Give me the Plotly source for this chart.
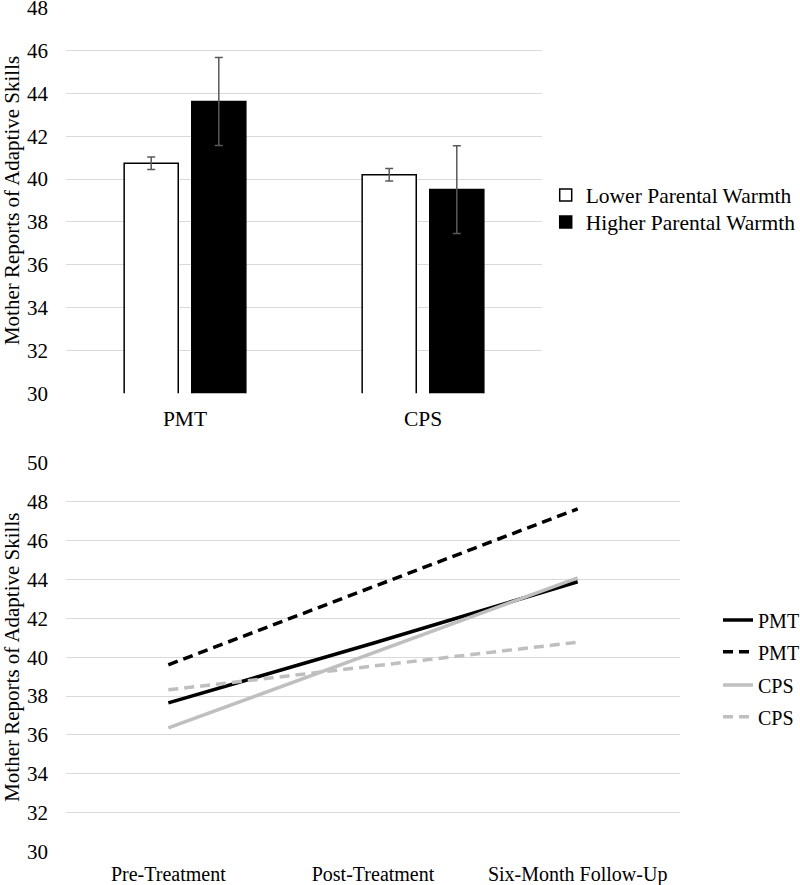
import plotly.graph_objects as go

# ---- Top chart data (bar chart) ----
groups = ["PMT", "CPS"]
lower_warmth = [40.74, 40.20]
lower_err = [0.29, 0.29]
higher_warmth = [43.62, 39.51]
higher_err = [2.05, 2.05]

# ---- Bottom chart data (line chart) ----
timepoints = ["Pre-Treatment", "Post-Treatment", "Six-Month Follow-Up"]
pmt_solid = [37.65, 40.72, 43.88]
pmt_dashed = [39.61, 43.62, 47.63]
cps_solid = [36.36, 40.22, 44.08]
cps_dashed = [38.32, 39.55, 40.77]

top_ticks = list(range(30, 49, 2))
bottom_ticks = list(range(30, 51, 2))

W, H = 800, 885
FONT = "Liberation Serif"
GRID = "#d9d9d9"


def px_x(p):
    return p / W


def px_y(p):
    return 1 - p / H


fig = go.Figure()

bar_specs = [
    ("Lower Parental Warmth", lower_warmth, lower_err, "white", "legend", 195),
    ("Higher Parental Warmth", higher_warmth, higher_err, "black", "legend2", 222),
]
for name, vals, err, col, leg, _ in bar_specs:
    fig.add_trace(go.Bar(
        x=groups, y=vals, name=name,
        marker=dict(color=col, line=dict(color="black", width=1.5)),
        error_y=dict(type="data", array=err, color="#595959", thickness=1.5, width=4),
        xaxis="x", yaxis="y", legend=leg,
    ))

line_specs = [
    ("PMT", pmt_solid, "black", "solid", "legend3", 620),
    ("PMT", pmt_dashed, "black", "10px,6px", "legend4", 651.7),
    ("CPS", cps_solid, "#bfbfbf", "solid", "legend5", 685),
    ("CPS", cps_dashed, "#bfbfbf", "10px,6px", "legend6", 716.7),
]
for name, vals, col, dash, leg, _ in line_specs:
    fig.add_trace(go.Scatter(
        x=timepoints, y=vals, name=name, mode="lines",
        line=dict(color=col, width=3.5, dash=dash),
        xaxis="x2", yaxis="y2", legend=leg,
    ))

legends = {}
for spec in bar_specs:
    legends[spec[4]] = dict(x=px_x(545.7), y=px_y(spec[5]), xanchor="left", yanchor="middle",
                            font=dict(size=21.5), bgcolor="rgba(0,0,0,0)")
for spec in line_specs:
    legends[spec[4]] = dict(x=px_x(718), y=px_y(spec[5]), xanchor="left", yanchor="middle",
                            font=dict(size=20), bgcolor="rgba(0,0,0,0)")

fig.update_layout(
    width=W, height=H,
    margin=dict(l=0, r=0, t=0, b=0, autoexpand=False),
    paper_bgcolor="white", plot_bgcolor="white",
    font=dict(family=FONT, size=21, color="black"),
    barmode="group", bargap=0.432, bargroupgap=0.2,
    xaxis=dict(domain=[px_x(66), px_x(542)], anchor="y", showgrid=False, automargin=False,
               showline=False, zeroline=False, ticks="", ticklabelstandoff=10,
               tickfont=dict(size=21.5)),
    yaxis=dict(domain=[px_y(393.3), px_y(7.6)], anchor="x", range=[29.995, 48.005],
               automargin=False, tickvals=top_ticks, gridcolor=GRID, gridwidth=1.3,
               zeroline=False, showline=False, ticklabelstandoff=17,
               ticklabeloverflow="allow",
               title=dict(text="Mother Reports of Adaptive Skills", standoff=5,
                          font=dict(size=21))),
    xaxis2=dict(domain=[px_x(66), px_x(680)], anchor="y2", showgrid=False, automargin=False,
                range=[-0.5, 2.5], showline=False, zeroline=False, ticks="",
                ticklabelstandoff=8, tickfont=dict(size=20), ticklabeloverflow="allow"),
    yaxis2=dict(domain=[px_y(851.7), px_y(462.7)], anchor="x2", range=[29.995, 50.005],
                automargin=False, tickvals=bottom_ticks, gridcolor=GRID, gridwidth=1.3,
                zeroline=False, showline=False, ticklabelstandoff=17,
                ticklabeloverflow="allow",
                title=dict(text="Mother Reports of Adaptive Skills", standoff=5,
                           font=dict(size=21))),
    showlegend=True,
    **legends,
)

# remove the browser's default 8px body margin so the figure sits at the page origin
fig.write_html("out.html", config={"displayModeBar": False},
               post_script="document.body.style.margin='0';")
